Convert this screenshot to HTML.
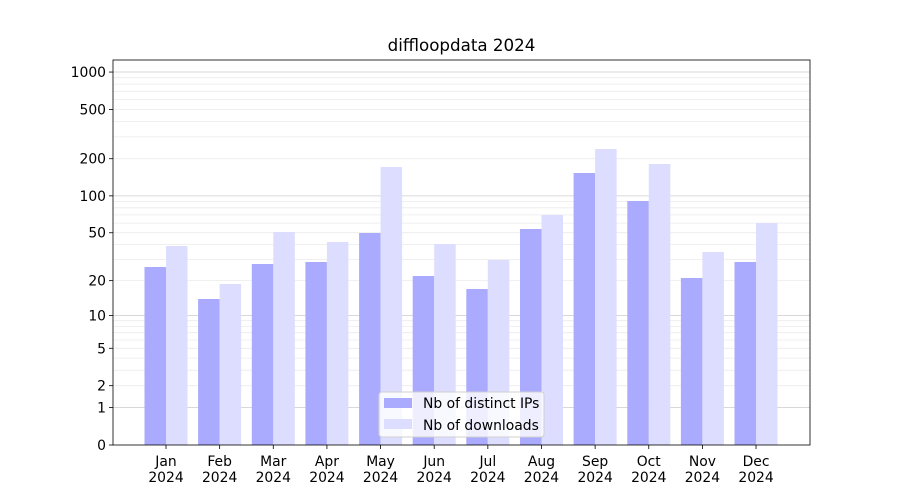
<!DOCTYPE html>
<html><head><meta charset="utf-8"><style>
body{margin:0;background:#fff;}
svg{display:block;font-family:"DejaVu Sans","Liberation Sans",sans-serif;}
</style></head><body>
<svg id="s" width="900" height="500" xmlns="http://www.w3.org/2000/svg"></svg>
<script>
const s=document.getElementById('s');
const L=113,R=810,T=60,B=445;
const Y=v=>B-124.3*Math.log10(1+v);
let h='';
const minors=[];
for(const d of [1,10,100]) for(let k=2;k<=9;k++) minors.push(d*k);
for(const v of minors){const y=Y(v).toFixed(1);h+=`<line x1="${L}" x2="${R}" y1="${y}" y2="${y}" stroke="#ebebeb" stroke-width="0.8"/>`;}
for(const v of [1,10,100,1000]){const y=Y(v).toFixed(1);h+=`<line x1="${L}" x2="${R}" y1="${y}" y2="${y}" stroke="#cccccc" stroke-width="0.8"/>`;}
const ip=[267,299,264,262,233,276,289,229,173,201,278,262];
const dl=[246,284,232,242,167,244,260,215,149,164,252,223];
const mon=['Jan','Feb','Mar','Apr','May','Jun','Jul','Aug','Sep','Oct','Nov','Dec'];
for(let i=0;i<12;i++){
 const c=166+i*53.64;
 h+=`<rect x="${(c-21.5).toFixed(1)}" y="${ip[i]}" width="21.5" height="${B-ip[i]}" fill="#aaaaff"/>`;
 h+=`<rect x="${c.toFixed(1)}" y="${dl[i]}" width="21.5" height="${B-dl[i]}" fill="#ddddff"/>`;
 h+=`<line x1="${c}" x2="${c}" y1="${B}" y2="${B+4}" stroke="#000" stroke-width="0.8"/>`;
 h+=`<text x="${c}" y="${B+21}" font-size="13.9" text-anchor="middle">${mon[i]}</text>`;
 h+=`<text x="${c}" y="${B+37}" font-size="13.9" text-anchor="middle">2024</text>`;
}
for(const v of [0,1,2,5,10,20,50,100,200,500,1000]){
 const y=Y(v);
 h+=`<line x1="${L-4}" x2="${L}" y1="${y}" y2="${y}" stroke="#000" stroke-width="0.8"/>`;
 h+=`<text x="${L-7}" y="${y+5}" font-size="13.9" text-anchor="end">${v}</text>`;
}
h+=`<rect x="${L}" y="${T}" width="${R-L}" height="${B-T}" fill="none" stroke="#000" stroke-width="0.8"/>`;
h+=`<text x="461.5" y="51" font-size="16.7" text-anchor="middle">diffloopdata 2024</text>`;
h+=`<rect x="379" y="392" width="165" height="45" rx="3" fill="#fff" fill-opacity="0.8" stroke="#d0d0d0"/>`;
h+=`<rect x="384" y="398" width="28" height="10" fill="#aaaaff"/>`;
h+=`<text x="423" y="408" font-size="13.9">Nb of distinct IPs</text>`;
h+=`<rect x="384" y="419" width="28" height="10" fill="#ddddff"/>`;
h+=`<text x="423" y="430" font-size="13.9">Nb of downloads</text>`;
s.innerHTML=h;
</script>
</body></html>
